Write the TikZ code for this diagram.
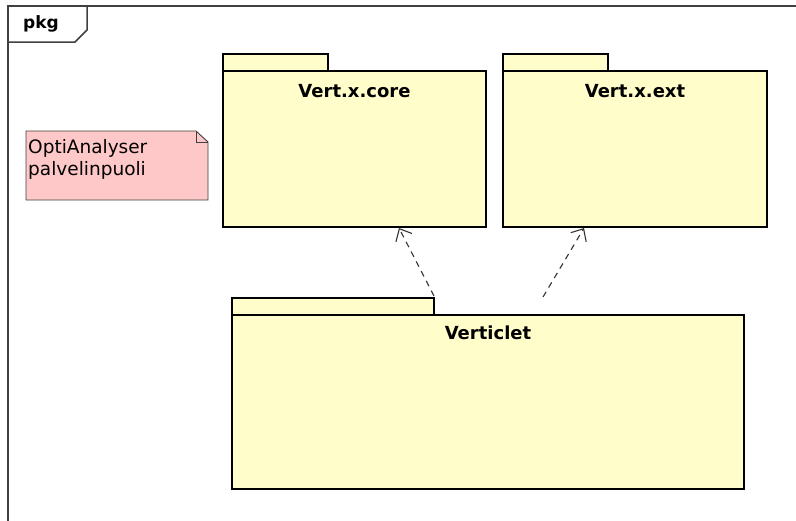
\documentclass[tikz,border=0pt]{standalone}
\usepackage{fontspec}
\setmainfont{DejaVu Sans}
\usetikzlibrary{arrows.meta}
\definecolor{pkgfill}{HTML}{FFFDC9}
\definecolor{notefill}{HTML}{FFC8C8}
\definecolor{framegray}{HTML}{404040}
\tikzset{
  pkgline/.style={draw=black, line width=2.4pt, fill=pkgfill},
  pkgtitle/.style={font=\fontsize{18}{22}\selectfont\bfseries, anchor=center, inner sep=0pt},
  dep/.style={draw=black!80, dashed, dash pattern=on 6pt off 5pt, line width=1.1pt, -{Straight Barb[length=10pt,width=18pt,line width=1.1pt]}},
}
\begin{document}
\begin{tikzpicture}[x=1pt,y=-1pt]
\useasboundingbox (0,0) rectangle (796,520);
\fill[white] (0,0) rectangle (796,520);
% outer frame
\draw[framegray, line width=1.5pt] (8,521) -- (8,6) -- (797,6);
\draw[framegray, line width=1.5pt] (8,42) -- (75,42) -- (87,30) -- (87,6);
\node[font=\fontsize{17}{20}\selectfont\bfseries, inner sep=0pt] (pkg) at (41,24) {pkg};
% note
\draw[draw=black!75, line width=0.9pt, fill=notefill] (26,131) -- (196,131) -- (208,142) -- (208,200) -- (26,200) -- cycle;
\draw[draw=black!75, line width=0.9pt] (196,131) -- (196,142) -- (208,142);
\node[anchor=north west, align=left, inner sep=0pt, font=\fontsize{18.5}{22}\selectfont] (note) at (28,139) {OptiAnalyser\\palvelinpuoli};
% Vert.x.core
\draw[pkgline] (223,54) rectangle (328,71);
\draw[pkgline] (223,71) rectangle (486,227);
\node[pkgtitle] (core) at (354.5,91) {Vert.x.core};
\coordinate (coreB) at (399,228);
% Vert.x.ext
\draw[pkgline] (503,54) rectangle (608,71);
\draw[pkgline] (503,71) rectangle (767,227);
\node[pkgtitle] (ext) at (635,91) {Vert.x.ext};
\coordinate (extB) at (584,228);
% Verticlet
\draw[pkgline] (232,298) rectangle (434,315);
\draw[pkgline] (232,315) rectangle (744,489);
\node[pkgtitle] (verticlet) at (488,333) {Verticlet};
\coordinate (vA) at (434,296);
\coordinate (vB) at (543,297);
% dependencies
\draw[dep] (vA) -- (coreB);
\draw[dep] (vB) -- (extB);
\end{tikzpicture}
\end{document}
